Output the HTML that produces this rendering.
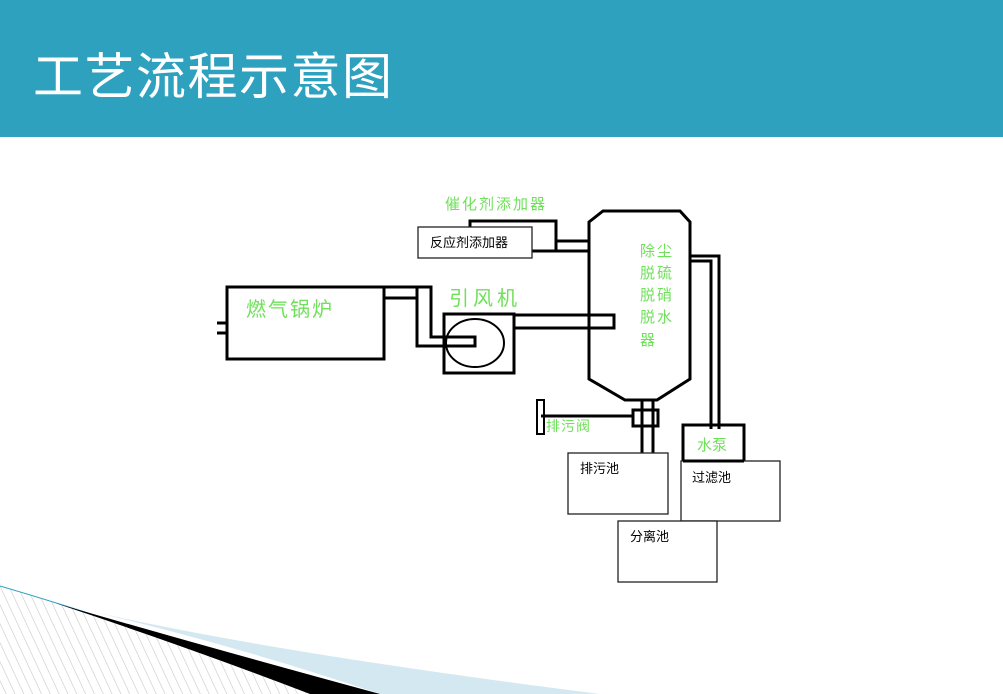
<!DOCTYPE html>
<html><head><meta charset="utf-8"><style>
html,body{margin:0;padding:0;background:#fff;}
svg{display:block}
</style></head><body>
<svg width="1003" height="694" viewBox="0 0 1003 694" xmlns="http://www.w3.org/2000/svg" font-family="Liberation Sans, Noto Sans CJK SC, sans-serif">
<defs>
<pattern id="h" width="8" height="8" patternUnits="userSpaceOnUse" patternTransform="rotate(-25)">
<rect width="8" height="8" fill="#fff"/><line x1="0" y1="0" x2="0" y2="8" stroke="#c8c8c8" stroke-width="1.2"/>
</pattern>
</defs>
<rect x="0" y="0" width="1003" height="137" fill="#2ea1bf"/>
<text x="33" y="94" font-size="50" fill="#fff" letter-spacing="1.5" font-family="Noto Sans CJK SC, sans-serif">工艺流程示意图</text>

<path d="M0,586 Q150,630 320,694 L0,694 Z" fill="url(#h)"/>
<path d="M0,586 Q150,630 320,694" fill="none" stroke="#2ea1bf" stroke-width="1"/>
<path d="M55,603 Q250,650 600,694 L380,694 Q220,640 55,603 Z" fill="#d4e8f1"/>
<path d="M55,603 Q200,645 380,694 L310,694 Q190,648 55,603 Z" fill="#000"/>

<g fill="none" stroke="#000" stroke-width="3">
<rect x="227" y="287" width="157" height="72"/>
<path d="M227,323 H217 M227,333 H217"/>
<path d="M384,287 H431 V337 H475 V346 H417 V298 H384"/>
<path d="M417,298 V287"/>
<rect x="444" y="314" width="70" height="59"/>
<ellipse cx="475" cy="343" rx="29" ry="24" stroke-width="2"/>
<path d="M514,315 H614 V328 H514"/>
<path d="M589,222 L603,211 H680 L690,222 V379 L657,400 H625 L589,379 Z"/>
<path d="M470,227 V221 H556 V251 H532"/>
<path d="M556,241 H589 M556,251 H589"/>
<path d="M690,256 H719 V429 M690,261 H711 V429"/>
<rect x="683" y="425" width="61" height="36"/>
<path d="M642,400 V453 M653,400 V453"/>
<rect x="633" y="410" width="25" height="16"/>
<path d="M541,416 H633"/>
<rect x="537" y="400" width="7" height="34" stroke-width="2"/>
</g>
<g fill="#fff" stroke="#222" stroke-width="1.3">
<rect x="418" y="227" width="114" height="31"/>
<rect x="568" y="453" width="100" height="61"/>
<rect x="681" y="461" width="99" height="60"/>
<rect x="618" y="521" width="99" height="61"/>
</g>
<path d="M683,461 H744" stroke="#000" stroke-width="3"/>

<g fill="#000" font-size="13">
<text x="430" y="247">反应剂添加器</text>
<text x="580" y="473">排污池</text>
<text x="692" y="482">过滤池</text>
<text x="630" y="541">分离池</text>
</g>
<g fill="#6fe05a">
<text x="445" y="209" font-size="15" letter-spacing="2">催化剂添加器</text>
<text x="246" y="316" font-size="20" letter-spacing="2">燃气锅炉</text>
<text x="449" y="305" font-size="20" letter-spacing="4">引风机</text>
<text x="640" y="256" font-size="15" letter-spacing="2">除尘</text>
<text x="640" y="278" font-size="15" letter-spacing="2">脱硫</text>
<text x="640" y="300" font-size="15" letter-spacing="2">脱硝</text>
<text x="640" y="322" font-size="15" letter-spacing="2">脱水</text>
<text x="640" y="345" font-size="15">器</text>
<text x="546" y="431" font-size="14" letter-spacing="1">排污阀</text>
<text x="697" y="450" font-size="15">水泵</text>
</g>
</svg>
</body></html>
